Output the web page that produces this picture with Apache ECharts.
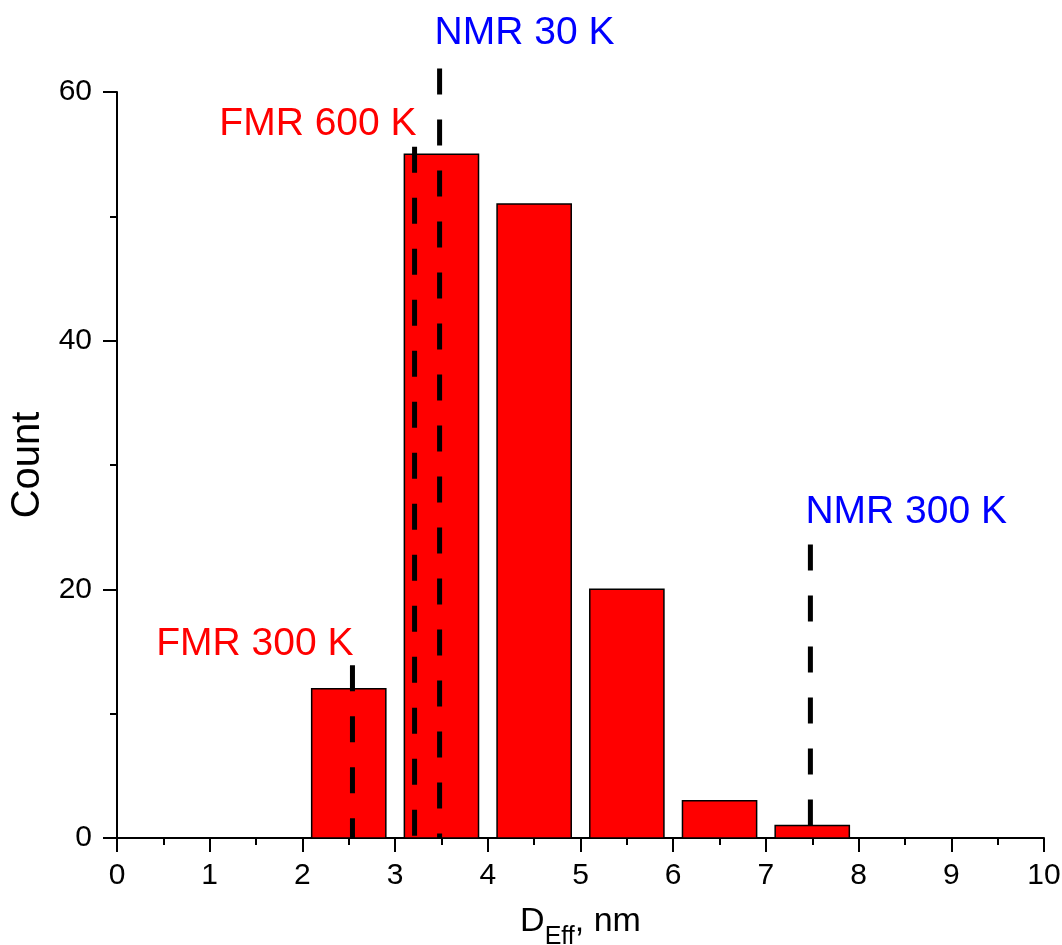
<!DOCTYPE html>
<html>
<head>
<meta charset="utf-8">
<script src="https://cdn.jsdelivr.net/npm/echarts@6/dist/echarts.min.js"></script>
<style>
html,body{margin:0;padding:0;background:#fff;}
#chart{width:1062px;height:945px;}
</style>
</head>
<body>
<div id="chart"></div>
<script>
// ---- data ----
const binCenters = [2.5, 3.5, 4.5, 5.5, 6.5, 7.5];
const counts = [12, 55, 51, 20, 3, 1];
const binWidth = 0.8;
const markerX = [2.54, 3.21, 3.48, 7.48];
const markerTop = [13.9, 55.6, 61.9, 23.6];
const markerLabels = ['FMR 300 K', 'FMR 600 K', 'NMR 30 K', 'NMR 300 K'];
const xTicks = [0, 1, 2, 3, 4, 5, 6, 7, 8, 9, 10];
const yTicks = [0, 20, 40, 60];

// ---- style / layout ----
const FONT = '"Liberation Sans", Arial, sans-serif';
const markerColors = ['#ff0000', '#ff0000', '#0000ff', '#0000ff'];
const labelLayout = [
  {dx: 1, dy: -21, align: 'right'},
  {dx: 2, dy: -22, align: 'right'},
  {dx: -5, dy: -35, align: 'left'},
  {dx: -5, dy: -32, align: 'left'}
];

const chart = echarts.init(document.getElementById('chart'), null, {renderer: 'canvas'});

const axisCommon = {
  axisLine: {show: true, lineStyle: {color: '#000', width: 2}},
  axisTick: {show: true, inside: false, length: 14, lineStyle: {color: '#000', width: 2}},
  minorTick: {show: true, splitNumber: 2, length: 7, lineStyle: {color: '#000', width: 2}},
  splitLine: {show: false},
  minorSplitLine: {show: false}
};

const option = {
  backgroundColor: '#fff',
  animation: false,
  grid: {left: 117, right: 18, top: 92, bottom: 107, containLabel: false, outerBoundsMode: 'none'},
  xAxis: Object.assign({
    type: 'value',
    min: xTicks[0],
    max: xTicks[xTicks.length - 1],
    interval: xTicks[1] - xTicks[0],
    axisLabel: {color: '#000', fontSize: 30, fontFamily: FONT, margin: 23},
    name: '{d|D}{s|Eff}{d|, nm}',
    nameLocation: 'middle',
    nameGap: 67,
    nameTextStyle: {
      fontFamily: FONT,
      rich: {
        d: {fontSize: 34, fontFamily: FONT, color: '#000', verticalAlign: 'top'},
        s: {fontSize: 25, fontFamily: FONT, color: '#000', verticalAlign: 'top', padding: [20, 0, 0, 0]}
      }
    }
  }, axisCommon),
  yAxis: Object.assign({
    type: 'value',
    min: yTicks[0],
    max: yTicks[yTicks.length - 1],
    interval: yTicks[1] - yTicks[0],
    axisLabel: {color: '#000', fontSize: 30, fontFamily: FONT, margin: 25},
    name: 'Count',
    nameLocation: 'middle',
    nameGap: 68,
    nameTextStyle: {color: '#000', fontSize: 40, fontFamily: FONT}
  }, axisCommon),
  series: [
    {
      type: 'custom',
      name: 'bars',
      clip: false,
      data: binCenters.map((c, i) => [c, counts[i]]),
      encode: {x: 0, y: 1},
      renderItem: function (params, api) {
        const c = api.value(0), v = api.value(1);
        const p0 = api.coord([c - binWidth / 2, v]);
        const p1 = api.coord([c + binWidth / 2, 0]);
        return {
          type: 'rect',
          shape: {x: p0[0], y: p0[1], width: p1[0] - p0[0], height: p1[1] - p0[1]},
          style: {fill: '#ff0000', stroke: '#000', lineWidth: 1.5}
        };
      }
    },
    {
      type: 'custom',
      name: 'markers',
      clip: false,
      z: 5,
      data: markerX.map((x, i) => [x, markerTop[i]]),
      encode: {x: 0, y: 1},
      renderItem: function (params, api) {
        const i = params.dataIndex;
        const x = api.value(0), top = api.value(1);
        const pt = api.coord([x, top]);
        const pb = api.coord([x, 0]);
        const L = labelLayout[i];
        return {
          type: 'group',
          children: [
            {
              type: 'line',
              shape: {x1: pt[0], y1: pt[1], x2: pb[0], y2: pb[1]},
              style: {stroke: '#000', lineWidth: 5, lineDash: [26, 25], lineCap: 'butt'}
            },
            {
              type: 'text',
              x: pt[0] + L.dx,
              y: pt[1] + L.dy,
              style: {
                text: markerLabels[i],
                fill: markerColors[i],
                font: '39px ' + FONT,
                textAlign: L.align,
                textVerticalAlign: 'middle'
              }
            }
          ]
        };
      }
    }
  ]
};
chart.setOption(option);
</script>
</body>
</html>
